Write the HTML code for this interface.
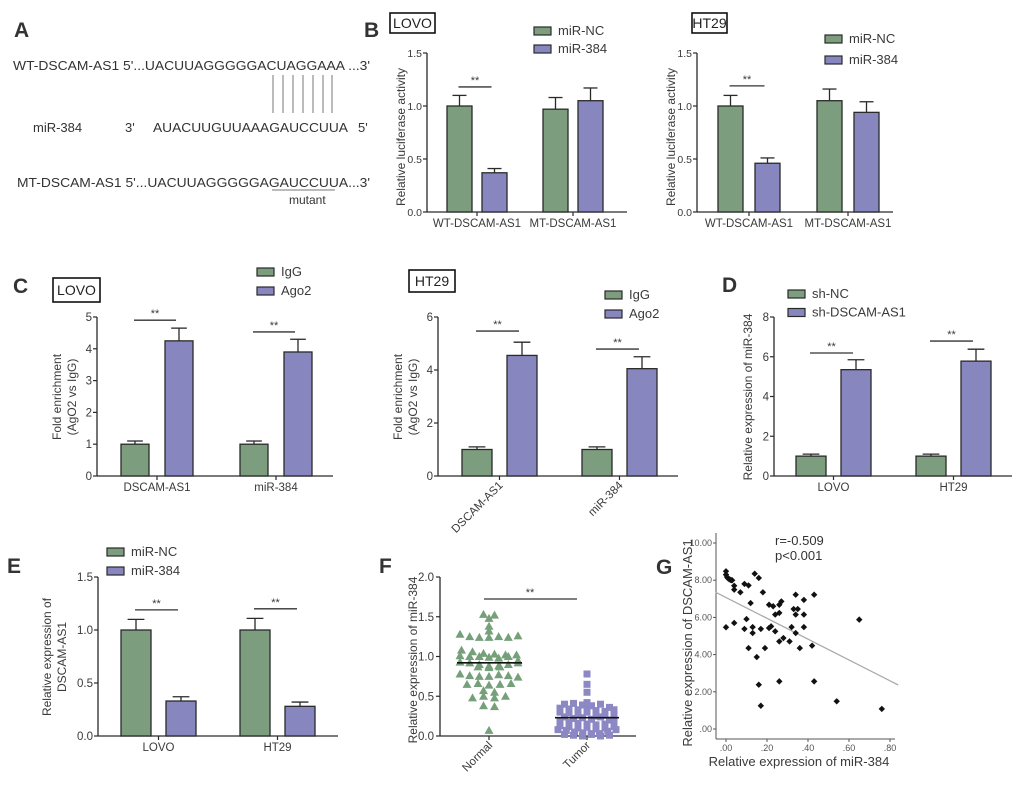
<!DOCTYPE html>
<html><head><meta charset="utf-8">
<style>
html,body{margin:0;padding:0;background:#fff;}
svg{display:block;font-family:"Liberation Sans",Arial,sans-serif;}
</style></head>
<body>
<svg id="fig" width="1020" height="787" viewBox="0 0 1020 787">
<g id="panelA" fill="#333">
  <text x="14" y="37" font-size="21" font-weight="bold">A</text>
  <text x="13" y="70" font-size="13" textLength="357" lengthAdjust="spacingAndGlyphs">WT-DSCAM-AS1 5'...UACUUAGGGGGACUAGGAAA ...3'</text>
  <text x="33" y="132" font-size="13">miR-384</text>
  <text x="125" y="132" font-size="13">3'</text>
  <text x="153" y="132" font-size="13" textLength="195" lengthAdjust="spacingAndGlyphs">AUACUUGUUAAAGAUCCUUA</text>
  <text x="358" y="132" font-size="13">5'</text>
  <g stroke="#777" stroke-width="1">
    <line x1="273" y1="75" x2="273" y2="113"/><line x1="283" y1="75" x2="283" y2="113"/>
    <line x1="293" y1="75" x2="293" y2="113"/><line x1="303" y1="75" x2="303" y2="113"/>
    <line x1="313" y1="75" x2="313" y2="113"/><line x1="323" y1="75" x2="323" y2="113"/>
    <line x1="332" y1="75" x2="332" y2="113"/>
  </g>
  <text x="17" y="187" font-size="13" textLength="353" lengthAdjust="spacingAndGlyphs">MT-DSCAM-AS1 5'...UACUUAGGGGGAGAUCCUUA...3'</text>
  <line x1="272" y1="190" x2="335" y2="190" stroke="#777" stroke-width="1"/>
  <text x="289" y="204" font-size="12">mutant</text>
</g>
</svg>
<script>
// ---------- DATA ----------
const bCats = ["WT-DSCAM-AS1","MT-DSCAM-AS1"];
const bLovoNC = [1.0, 0.97];
const bLovoNCErr = [0.1, 0.11];
const bLovoMiR = [0.37, 1.05];
const bLovoMiRErr = [0.04, 0.12];
const bHtNC = [1.0, 1.05];
const bHtNCErr = [0.1, 0.11];
const bHtMiR = [0.46, 0.94];
const bHtMiRErr = [0.05, 0.1];
const bTicks = [0, 0.5, 1.0, 1.5];
const bTickLabels = ["0.0","0.5","1.0","1.5"];

const cCats = ["DSCAM-AS1","miR-384"];
const cLovoIgG = [1.0, 1.0];
const cLovoIgGErr = [0.1, 0.1];
const cLovoAgo = [4.25, 3.9];
const cLovoAgoErr = [0.4, 0.4];
const cLovoTicks = [0,1,2,3,4,5];
const cHtIgG = [1.0, 1.0];
const cHtIgGErr = [0.1, 0.1];
const cHtAgo = [4.55, 4.05];
const cHtAgoErr = [0.5, 0.45];
const cHtTicks = [0,2,4,6];

const dCats = ["LOVO","HT29"];
const dNC = [1.0, 1.0];
const dNCErr = [0.1, 0.1];
const dSh = [5.35, 5.78];
const dShErr = [0.5, 0.6];
const dTicks = [0,2,4,6,8];

const eCats = ["LOVO","HT29"];
const eNC = [1.0, 1.0];
const eNCErr = [0.1, 0.11];
const eMiR = [0.33, 0.28];
const eMiRErr = [0.04, 0.04];
const eTicks = [0, 0.5, 1.0, 1.5];
const eTickLabels = ["0.0","0.5","1.0","1.5"];

const fNormal = [1.53,1.52,1.48,1.38,1.32,1.28,1.25,1.24,1.24,1.25,1.24,1.26,1.08,1.06,1.04,1.03,1.02,1.01,1.0,1.0,0.99,0.98,1.0,1.02,0.95,0.93,0.92,0.9,0.88,0.87,0.86,0.88,0.9,0.92,0.87,0.78,0.76,0.75,0.75,0.77,0.76,0.74,0.65,0.66,0.64,0.65,0.66,0.57,0.55,0.48,0.5,0.48,0.5,0.38,0.37,0.07];
const fTumor = [0.78,0.65,0.55,0.42,0.4,0.41,0.39,0.38,0.4,0.35,0.36,0.34,0.33,0.35,0.32,0.3,0.31,0.29,0.28,0.3,0.25,0.24,0.26,0.22,0.23,0.21,0.24,0.2,0.18,0.17,0.16,0.15,0.14,0.15,0.13,0.12,0.1,0.11,0.09,0.08,0.07,0.05,0.04,0.03,0.02,0.01,0.0,0.02,0.0,0.01,0.03,0.06,0.08,0.1,0.12,0.19,0.27,0.33];
const fMeans = [0.92, 0.23];
const fTicks = [0,0.5,1.0,1.5,2.0];
const fTickLabels = ["0.0","0.5","1.0","1.5","2.0"];

const gX = [0.0,0.0,0.005,0.01,0.015,0.02,0.025,0.03,0.04,0.04,0.07,0.09,0.11,0.12,0.14,0.16,0.18,0.0,0.04,0.10,0.09,0.13,0.13,0.11,0.15,0.17,0.19,0.16,0.17,0.21,0.23,0.24,0.22,0.21,0.24,0.26,0.26,0.27,0.26,0.28,0.26,0.31,0.32,0.33,0.35,0.34,0.34,0.34,0.36,0.38,0.38,0.38,0.42,0.43,0.43,0.65,0.54,0.76];
const gY = [8.48,8.3,8.17,8.1,8.06,8.03,8.0,8.0,7.7,7.49,7.35,7.8,7.72,6.77,8.35,8.12,7.35,5.47,5.7,5.91,5.38,5.48,5.16,4.35,3.87,5.38,4.35,2.38,1.25,6.68,6.6,6.15,5.52,5.43,5.25,6.24,6.68,6.86,4.71,4.89,2.56,4.71,5.48,6.45,6.45,7.22,6.15,5.16,4.35,6.94,6.15,5.48,4.48,7.22,2.56,5.88,1.49,1.08];
const gXTicks = [0,0.2,0.4,0.6,0.8];
const gXTickLabels = [".00",".20",".40",".60",".80"];
const gYTicks = [0,2,4,6,8,10];
const gYTickLabels = [".00","2.00","4.00","6.00","8.00","10.00"];
const gFit = [7.07, -5.6]; // intercept, slope

// ---------- HELPERS ----------
const NS = "http://www.w3.org/2000/svg";
const svg = document.getElementById("fig");
const GREEN = "#7c9e7f", PURPLE = "#8886bf", INK = "#2a2a2a", TXT = "#3a3a3a";
function mk(tag, a, p) { const e = document.createElementNS(NS, tag); for (const k in a) e.setAttribute(k, a[k]); (p || svg).appendChild(e); return e; }
function tx(p, x, y, s, size, anchor, extra) {
  const a = Object.assign({x: x, y: y, "font-size": size, "text-anchor": anchor || "start", fill: TXT}, extra || {});
  const e = mk("text", a, p); e.textContent = s; return e;
}
function group(name) {
  const g = mk("g", {});
  
  
  return g;
}
function panelLabel(g, ch, x, y) {
  const t = tx(g, x, y, ch, 21, "start", {"font-weight": "bold", fill: "#333"});
  
  
}
function cellBox(g, x, y, w, h, s) {
  const r = mk("rect", {x: x, y: y, width: w, height: h, fill: "#fff", stroke: "#111", "stroke-width": 1.6}, g);
  
  
  const t = tx(g, x + w / 2, y + h / 2 + 5, s, 14, "middle", {fill: "#222"});
  
  
}
function legend(g, x, y, dy, labels, colors, size) {
  labels.forEach(function (lab, i) {
    const r = mk("rect", {x: x, y: y + i * dy, width: 17, height: 8, fill: colors[i], stroke: INK, "stroke-width": 1.2}, g);
    
    
    const t = tx(g, x + 24, y + i * dy + 8, lab, size || 13);
    
    
  });
}
function yTitle(g, x, cy, lines, size) {
  lines.forEach(function (s, i) {
    const t = tx(g, 0, 0, s, size || 12, "middle", {transform: "translate(" + (x + i * 15) + "," + cy + ") rotate(-90)"});
    
    
  });
}
// L: x0,x1,y0,yT,max,pad,step,w,off,rot,fs
function barPanel(g, L, cats, v1, e1, v2, e2, ticks, tickLabels, sigY) {
  const fs = L.fs || 11.5;
  const y = function (v) { return L.y0 - v / L.max * (L.y0 - L.yT); };
  const xg = function (i) { return L.x0 + L.pad + i * L.step; };
  const ax = mk("line", {x1: L.x0, y1: L.y0, x2: L.x0, y2: L.yT, stroke: INK, "stroke-width": 1.3}, g);
  
  
  const bx = mk("line", {x1: L.x0, y1: L.y0, x2: L.x1, y2: L.y0, stroke: INK, "stroke-width": 1.3}, g);
  
  
  ticks.forEach(function (t, i) {
    const tk = mk("line", {x1: L.x0 - 4, y1: y(t), x2: L.x0, y2: y(t), stroke: INK, "stroke-width": 1.2}, g);
    
    
    const tl = tx(g, L.x0 - 5, y(t) + 4, tickLabels ? tickLabels[i] : String(t), fs, "end");
    
    
  });
  cats.forEach(function (c, i) {
    const gx = xg(i), px = gx + L.off;
    const cx = (gx + px + L.w) / 2;
    const ct = mk("line", {x1: cx, y1: L.y0, x2: cx, y2: L.y0 + 4, stroke: INK, "stroke-width": 1.2}, g);
    
    
    let lab;
    if (L.rot) {
      lab = tx(g, 0, 0, c, 11.5, "end", {transform: "translate(" + (cx + 4) + "," + (L.y0 + 10) + ") rotate(-45)"});
    } else {
      lab = tx(g, cx, L.y0 + 15, c, 11.5, "middle");
    }
    
    
    [[gx, v1[i], e1[i], GREEN], [px, v2[i], e2[i], PURPLE]].forEach(function (b, k) {
      const bcx = b[0] + L.w / 2;
      const el = mk("line", {x1: bcx, y1: y(b[1]), x2: bcx, y2: y(b[1] + b[2]), stroke: INK, "stroke-width": 1.3}, g);
      
      
      const cap = mk("line", {x1: bcx - L.w * 0.28, y1: y(b[1] + b[2]), x2: bcx + L.w * 0.28, y2: y(b[1] + b[2]), stroke: INK, "stroke-width": 1.3}, g);
      
      
      const r = mk("rect", {x: b[0], y: y(b[1]), width: L.w, height: L.y0 - y(b[1]), fill: b[3], stroke: INK, "stroke-width": 1.3}, g);
      
      
    });
    if (sigY && sigY[i] != null) {
      const sx1 = gx + L.w / 2 - 1, sx2 = px + L.w / 2 - 3;
      const sl = mk("line", {x1: sx1, y1: y(sigY[i]), x2: sx2, y2: y(sigY[i]), stroke: "#333", "stroke-width": 1.3}, g);
      
      
      const st = tx(g, (sx1 + sx2) / 2, y(sigY[i]) - 3, "**", 11, "middle");
      
      
    }
  });
}

// ---------- PANEL B ----------
const gB1 = group("panel-b-lovo");
panelLabel(gB1, "B", 364, 37);
cellBox(gB1, 390, 13, 45, 20, "LOVO");
legend(gB1, 534, 27, 18, ["miR-NC","miR-384"], [GREEN, PURPLE]);
yTitle(gB1, 405, 137, ["Relative luciferase activity"], 12);
barPanel(gB1, {x0:427,x1:627,y0:212,yT:53,max:1.5,pad:20,step:96,w:25,off:35,fs:10.5}, bCats, bLovoNC, bLovoNCErr, bLovoMiR, bLovoMiRErr, bTicks, bTickLabels, [1.18, null]);

const gB2 = group("panel-b-ht29");
cellBox(gB2, 692, 13, 35, 20, "HT29");
legend(gB2, 825, 35, 21, ["miR-NC","miR-384"], [GREEN, PURPLE]);
yTitle(gB2, 675, 137, ["Relative luciferase activity"], 12);
barPanel(gB2, {x0:697,x1:893,y0:212,yT:53,max:1.5,pad:21,step:99,w:25,off:37,fs:10.5}, bCats, bHtNC, bHtNCErr, bHtMiR, bHtMiRErr, bTicks, bTickLabels, [1.19, null]);

// ---------- PANEL C ----------
const gC1 = group("panel-c-lovo");
panelLabel(gC1, "C", 13, 293);
cellBox(gC1, 53, 278, 47, 24, "LOVO");
legend(gC1, 257, 268, 19, ["IgG","Ago2"], [GREEN, PURPLE]);
yTitle(gC1, 61, 397, ["Fold enrichment","(AgO2 vs IgG)"], 12);
barPanel(gC1, {x0:97,x1:333,y0:476,yT:317,max:5,pad:24,step:119,w:28,off:44}, cCats, cLovoIgG, cLovoIgGErr, cLovoAgo, cLovoAgoErr, cLovoTicks, null, [4.9, 4.53]);

const gC2 = group("panel-c-ht29");
cellBox(gC2, 409, 270, 46, 22, "HT29");
legend(gC2, 605, 291, 19, ["IgG","Ago2"], [GREEN, PURPLE]);
yTitle(gC2, 402, 397, ["Fold enrichment","(AgO2 vs IgG)"], 12);
barPanel(gC2, {x0:438,x1:678,y0:476,yT:317,max:6,pad:24,step:120,w:30,off:45,rot:true}, cCats, cHtIgG, cHtIgGErr, cHtAgo, cHtAgoErr, cHtTicks, null, [5.47, 4.79]);

// ---------- PANEL D ----------
const gD = group("panel-d");
panelLabel(gD, "D", 722, 292);
legend(gD, 788, 290, 18.5, ["sh-NC","sh-DSCAM-AS1"], [GREEN, PURPLE]);
yTitle(gD, 752, 397, ["Relative expression of miR-384"], 12);
barPanel(gD, {x0:774,x1:1012,y0:476,yT:317,max:8,pad:22,step:120,w:30,off:45}, dCats, dNC, dNCErr, dSh, dShErr, dTicks, null, [6.19, 6.79]);

// ---------- PANEL E ----------
const gE = group("panel-e");
panelLabel(gE, "E", 7, 573);
legend(gE, 107, 548, 19, ["miR-NC","miR-384"], [GREEN, PURPLE]);
yTitle(gE, 51, 657, ["Relative expression of","DSCAM-AS1"], 12);
barPanel(gE, {x0:98,x1:338,y0:736,yT:577,max:1.5,pad:23,step:119,w:30,off:45}, eCats, eNC, eNCErr, eMiR, eMiRErr, eTicks, eTickLabels, [1.19, 1.2]);

// ---------- PANEL F ----------
const gF = group("panel-f");
panelLabel(gF, "F", 379, 573);
(function () {
  const x0 = 440, x1 = 636, y0 = 736, yT = 577, max = 2.0;
  const y = function (v) { return y0 - v / max * (y0 - yT); };
  const centers = [489, 587];
  const a1 = mk("line", {x1:x0,y1:y0,x2:x0,y2:yT,stroke:INK,"stroke-width":1.3}, gF);
  
  
  const a2 = mk("line", {x1:x0,y1:y0,x2:x1,y2:y0,stroke:INK,"stroke-width":1.3}, gF);
  
  
  fTicks.forEach(function (t, i) {
    const tk = mk("line", {x1:x0-4,y1:y(t),x2:x0,y2:y(t),stroke:INK,"stroke-width":1.2}, gF);
    
    
    const tl = tx(gF, x0-6, y(t)+4, fTickLabels[i], 11.5, "end");
    
    
  });
  yTitle(gF, 417, 660, ["Relative expression of miR-384"], 12);
  ["Normal","Tumor"].forEach(function (c, i) {
    const tk = mk("line", {x1:centers[i],y1:y0,x2:centers[i],y2:y0+4,stroke:INK,"stroke-width":1.2}, gF);
    
    
    const t = tx(gF, 0, 0, c, 11.5, "end", {transform: "translate(" + (centers[i]+4) + "," + (y0+10) + ") rotate(-45)"});
    
    
  });
  function swarm(vals, cx, shape, color, binW, sp, maxW) {
    const bins = {};
    vals.forEach(function (v) { const k = Math.round(v / binW); (bins[k] = bins[k] || []).push(v); });
    Object.keys(bins).forEach(function (k) {
      const arr = bins[k];
      const s = arr.length > 1 ? Math.min(sp, maxW / (arr.length - 1)) : sp;
      arr.forEach(function (v, j) {
        const off = (j - (arr.length - 1) / 2) * s;
        const px = cx + off, py = y(v);
        let m;
        if (shape === "tri") m = mk("polygon", {points: (px) + "," + (py-4.5) + " " + (px-4.5) + "," + (py+3.5) + " " + (px+4.5) + "," + (py+3.5), fill: color}, gF);
        else m = mk("rect", {x: px-3.5, y: py-3.5, width: 7, height: 7, fill: color}, gF);
        
        
      });
    });
  }
  swarm(fNormal, centers[0], "tri", "#76a07a", 0.07, 11, 58);
  swarm(fTumor, centers[1], "sq", "#8b88c4", 0.055, 9, 58);
  [[457,522],[555,619]].forEach(function (s, i) {
    const ml = mk("line", {x1:s[0],y1:y(fMeans[i]),x2:s[1],y2:y(fMeans[i]),stroke:"#111","stroke-width":1.6}, gF);
    
    
  });
  const sl = mk("line", {x1:484,y1:599,x2:577,y2:599,stroke:"#333","stroke-width":1.3}, gF);
  
  
  const st = tx(gF, 530, 596, "**", 11, "middle");
  
  
})();

// ---------- PANEL G ----------
const gG = group("panel-g");
panelLabel(gG, "G", 656, 574);
(function () {
  const xAx = 716, xRight = 895, yAx = 739, yTop = 533;
  const X = function (v) { return 726 + v / 0.8 * (890 - 726); };
  const Y = function (v) { return 729 - v / 10 * (729 - 543); };
  const a1 = mk("line", {x1:xAx,y1:yAx,x2:xAx,y2:yTop,stroke:"#555","stroke-width":1}, gG);
  
  
  const a2 = mk("line", {x1:xAx,y1:yAx,x2:xRight,y2:yAx,stroke:"#555","stroke-width":1}, gG);
  
  
  gYTicks.forEach(function (t, i) {
    const tk = mk("line", {x1:xAx-3,y1:Y(t),x2:xAx,y2:Y(t),stroke:"#555","stroke-width":1}, gG);
    
    
    const tl = tx(gG, xAx-4, Y(t)+3, gYTickLabels[i], 9, "end", {fill:"#555"});
    
    
  });
  gXTicks.forEach(function (t, i) {
    const tk = mk("line", {x1:X(t),y1:yAx,x2:X(t),y2:yAx+3,stroke:"#555","stroke-width":1}, gG);
    
    
    const tl = tx(gG, X(t), yAx+12, gXTickLabels[i], 9, "middle", {fill:"#555"});
    
    
  });
  const fx1 = -0.05, fx2 = 0.84;
  const fl = mk("line", {x1:X(fx1),y1:Y(gFit[0]+gFit[1]*fx1),x2:X(fx2),y2:Y(gFit[0]+gFit[1]*fx2),stroke:"#aaa","stroke-width":1.3}, gG);
  
  
  gX.forEach(function (v, i) {
    const px = X(v), py = Y(gY[i]);
    const p = mk("polygon", {points: px + "," + (py-3.2) + " " + (px+3.2) + "," + py + " " + px + "," + (py+3.2) + " " + (px-3.2) + "," + py, fill: "#111"}, gG);
    
    
  });
  const r1 = tx(gG, 775, 545, "r=-0.509", 13, "start", {fill:"#333"});
  
  
  const r2 = tx(gG, 775, 560, "p<0.001", 13, "start", {fill:"#333"});
  
  
  yTitle(gG, 692, 643, ["Relative expression of DSCAM-AS1"], 13);
  const xt = tx(gG, 799, 766, "Relative expression of miR-384", 13, "middle");
  
  
})();
</script>
</body></html>
